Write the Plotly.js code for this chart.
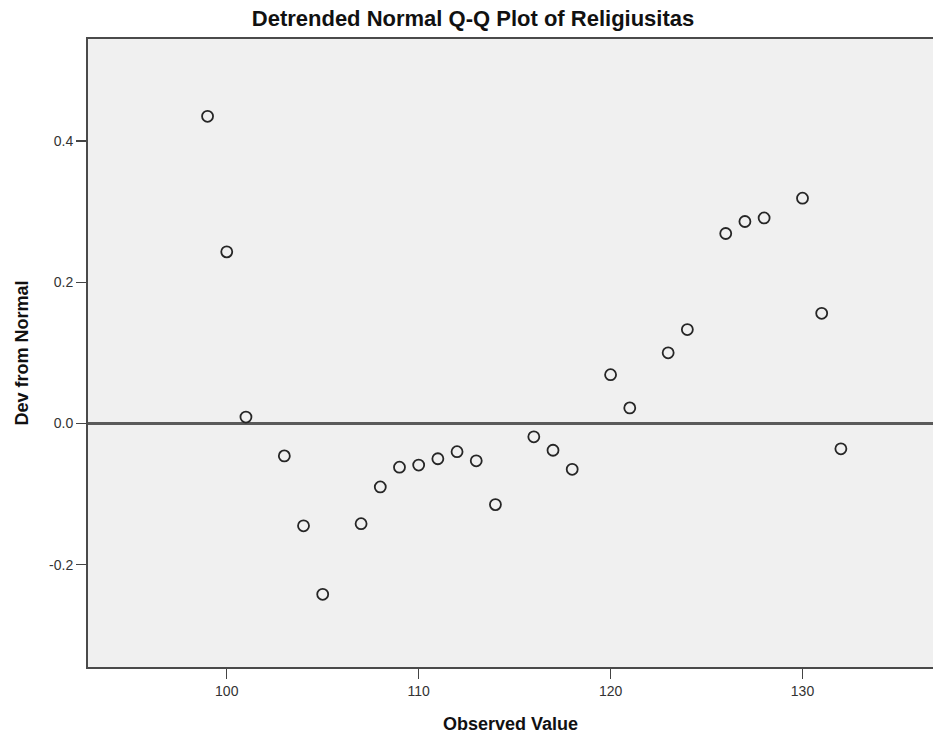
<!DOCTYPE html>
<html>
<head>
<meta charset="utf-8">
<script src="https://cdn.plot.ly/plotly-3.0.1.min.js"></script>
<style>html,body{margin:0;padding:0;background:#fff;}#chart{width:933px;height:742px;}</style>
</head>
<body>
<div id="chart"></div>
<script>
// Observed values (x) and deviation from normal (y)
const observedValue = [99, 100, 101, 103, 104, 105, 107, 108, 109, 110, 111, 112, 113, 114, 116, 117, 118, 120, 121, 123, 124, 126, 127, 128, 130, 131, 132];
const devFromNormal = [0.435, 0.243, 0.009, -0.046, -0.145, -0.242, -0.142, -0.090, -0.062, -0.059, -0.050, -0.040, -0.053, -0.115, -0.019, -0.038, -0.065, 0.069, 0.022, 0.100, 0.133, 0.269, 0.286, 0.291, 0.319, 0.156, -0.036];
const xTicks = [100, 110, 120, 130];
const yTicks = [-0.2, 0.0, 0.2, 0.4];
const yTickLabels = ["-0.2", "0.0", "0.2", "0.4"];

const trace = {
  x: observedValue,
  y: devFromNormal,
  type: 'scatter',
  mode: 'markers',
  marker: {
    symbol: 'circle-open',
    size: 11,
    color: '#262626',
    line: {width: 1.8, color: '#262626'}
  },
  hoverinfo: 'x+y'
};

const FONT = 'Liberation Sans, Arial, sans-serif';

const layout = {
  width: 933,
  height: 742,
  margin: {l: 88, r: 0, t: 39, b: 75},
  paper_bgcolor: '#ffffff',
  plot_bgcolor: '#f0f0f0',
  font: {family: FONT, color: '#222'},
  title: {
    text: '<b>Detrended Normal Q-Q Plot of Religiusitas</b>',
    x: 0.507, xanchor: 'center', y: 0.976, yanchor: 'middle',
    font: {size: 22, color: '#111', family: FONT}
  },
  showlegend: false,
  xaxis: {
    range: [92.77, 136.8],
    tickvals: xTicks,
    ticktext: xTicks.map(String),
    ticks: 'outside', ticklen: 10, tickwidth: 1.3, tickcolor: '#444',
    showline: true, linecolor: '#4a4a4a', linewidth: 2, mirror: true,
    showgrid: false, zeroline: false,
    tickfont: {size: 14, color: '#333'},
    title: {text: '<b>Observed Value</b>', font: {size: 18, color: '#111'}, standoff: 20}
  },
  yaxis: {
    range: [-0.345, 0.5445],
    tickvals: yTicks,
    ticktext: yTickLabels,
    ticks: 'outside', ticklen: 10, tickwidth: 1.3, tickcolor: '#444',
    showline: true, linecolor: '#4a4a4a', linewidth: 2, mirror: false,
    showgrid: false,
    zeroline: true, zerolinecolor: '#5a5a5a', zerolinewidth: 2.5,
    tickfont: {size: 14, color: '#333'},
    title: {text: '<b>Dev from Normal</b>', font: {size: 18, color: '#111'}, standoff: 16}
  }
};

Plotly.newPlot('chart', [trace], layout, {displayModeBar: false, staticPlot: true});
</script>
</body>
</html>
